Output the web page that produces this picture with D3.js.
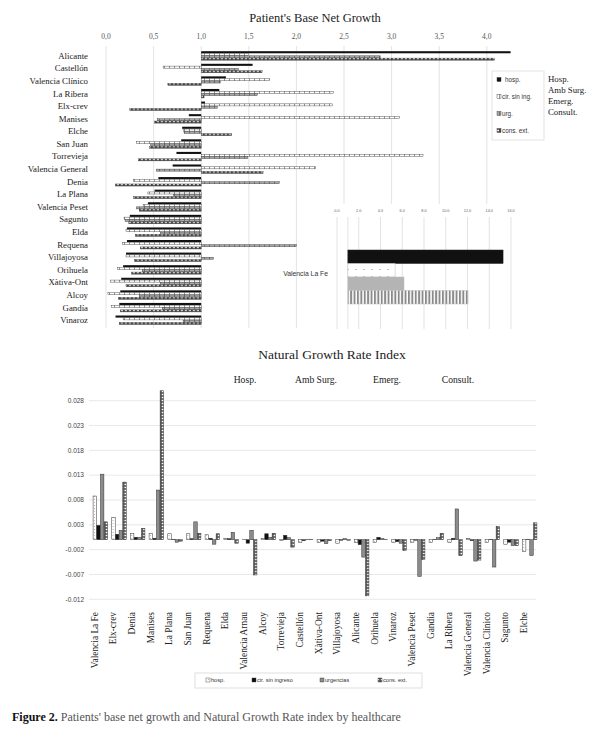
<!DOCTYPE html>
<html>
<head>
<meta charset="UTF-8" />
<title>Patient's Base Net Growth & Natural Growth Rate Index</title>
<script src="https://cdn.jsdelivr.net/npm/d3@7"></script>
<style>
  body { margin: 0; background: #fff; }
  svg { display: block; }
  .serif { font-family: "Liberation Serif", "DejaVu Serif", serif; }
  .sans { font-family: "Liberation Sans", Arial, sans-serif; }
</style>
</head>
<body>
<svg width="600" height="738"></svg>
<script>
// ---- top chart: patient's base net growth (base = 1.0)
const topCats = ["Alicante", "Castellón", "Valencia Clínico", "La Ribera", "Elx-crev", "Manises", "Elche",
  "San Juan", "Torrevieja", "Valencia General", "Denia", "La Plana", "Valencia Peset", "Sagunto", "Elda",
  "Requena", "Villajoyosa", "Orihuela", "Xàtiva-Ont", "Alcoy", "Gandía", "Vinaroz"];
const topHosp = [4.25, 1.54, 1.26, 1.19, 1.04, 0.87, 0.80, 0.79, 0.74, 0.70, 0.55, 0.51, 0.44, 0.25, 0.22, 0.22, 0.21, 0.18, 0.16, 0.15, 0.14, 0.10];
const topCir  = [1.50, 0.60, 1.72, 2.39, 2.38, 3.08, 0.81, 0.32, 3.33, 2.20, 0.29, 0.44, 0.39, 0.19, 0.21, 0.17, 0.21, 0.12, 0.05, 0.02, 0.06, 0.18];
const topUrg  = [2.88, 1.39, 1.20, 1.59, 1.17, 0.54, 0.82, 0.47, 1.49, 0.53, 1.82, 0.71, 0.32, 0.20, 0.57, 2.00, 1.13, 0.38, 0.57, 0.35, 0.59, 0.81];
const topCons = [4.08, 1.64, 0.65, 1.03, 0.25, 0.51, 1.32, 0.46, 0.34, 1.65, 0.10, 0.29, 0.35, 0.24, 0.31, 0.36, 0.30, 0.27, 0.21, 0.13, 0.15, 0.14];
const topTicks = [0, 0.5, 1, 1.5, 2, 2.5, 3, 3.5, 4];
const topLegend = ["hosp.", "cir. sin ing.", "urg.", "cons. ext."];
const sideNames = ["Hosp.", "Amb Surg.", "Emerg.", "Consult."];

// inset: Valencia La Fe on its own scale
const insetCat = ["Valencia La Fe"];
const insetVals = [15.27, 5.34, 6.16, 12.05];
const insetTicks = [0, 2, 4, 6, 8, 10, 12, 14, 16];

// ---- bottom chart: natural growth rate index
const botCats = ["Valencia La Fe", "Elx-crev", "Denia", "Manises", "La Plana", "San Juan", "Requena", "Elda",
  "Valencia Arnau", "Alcoy", "Torrevieja", "Castellón", "Xàtiva-Ont", "Villajoyosa", "Alicante", "Orihuela",
  "Vinaroz", "Valencia Peset", "Gandia", "La Ribera", "Valencia General", "Valencia Clínico", "Sagunto", "Elche"];
const botHosp = [0.0088, 0.0045, 0.0013, 0.0013, 0.0012, 0.0012, 0.0010, 0.0003, 0.0001, 0.0002, -0.0002, -0.0006,
  -0.0006, -0.0007, -0.0006, -0.0006, -0.0006, -0.0005, -0.0006, -0.0006, 0.0003, -0.0006, -0.0009, -0.0024];
const botCir  = [0.0029, 0.0011, 0.0005, 0.0003, 0.0001, 0.0002, 0.0003, 0.0002, -0.0007, 0.0012, 0.0009, -0.0002,
  -0.0003, -0.0001, -0.0010, 0.0005, -0.0004, -0.0001, 0.0001, 0.0003, -0.0002, 0.0001, -0.0005, 0.0001];
const botUrg  = [0.0132, 0.0019, 0.0005, 0.0100, -0.0005, 0.0036, -0.0009, 0.0015, 0.0019, 0.0005, 0.0004, 0.0001,
  -0.0008, 0.0002, -0.0035, 0.0002, -0.0007, -0.0074, 0.0004, 0.0062, -0.0043, -0.0055, -0.0012, -0.0032];
const botCons = [0.0036, 0.0116, 0.0023, 0.0300, -0.0003, 0.0013, 0.0012, -0.0007, -0.0071, 0.0013, -0.0015, 0.0001,
  -0.0002, -0.0001, -0.0113, 0.0001, -0.0022, -0.0040, 0.0013, -0.0032, -0.0041, 0.0027, -0.0012, 0.0034];
const botTicks = [-0.012, -0.007, -0.002, 0.003, 0.008, 0.013, 0.018, 0.023, 0.028];
const botLegend = ["hosp.", "cir. sin ingreso", "urgencias", "cons. ext."];

const keys = ["hosp", "cir", "urg", "cons"];
const svg = d3.select("svg");

// patterns
const defs = svg.append("defs");
function pat(id, w, h, bg, draw) {
  const p = defs.append("pattern").attr("id", id).attr("patternUnits", "userSpaceOnUse")
    .attr("width", w).attr("height", h);
  p.append("rect").attr("width", w).attr("height", h).attr("fill", bg);
  draw(p);
}
pat("tTick", 5, 4, "#fff", p => p.append("rect").attr("x", 4).attr("width", 0.7).attr("height", 4).attr("fill", "#666"));
pat("tTickG", 5, 4, "#a8a8a8", p => p.append("rect").attr("x", 4).attr("width", 0.7).attr("height", 4).attr("fill", "#555"));
pat("tCheck", 4, 3, "#444", p => p.append("rect").attr("x", 0.8).attr("y", 0.8).attr("width", 2.2).attr("height", 1.4).attr("fill", "#fff"));
pat("bDot", 3, 3, "#fff", p => p.append("circle").attr("cx", 1.5).attr("cy", 1.5).attr("r", 0.45).attr("fill", "#666"));
pat("bCheck", 4, 3, "#555", p => p.append("rect").attr("x", 0.9).attr("y", 0.8).attr("width", 2.2).attr("height", 1.4).attr("fill", "#fff"));
pat("iDot", 8, 7, "#fff", p => p.append("circle").attr("cx", 4).attr("cy", 3.5).attr("r", 0.6).attr("fill", "#777"));
pat("iStripe", 3.4, 10, "#fff", p => p.append("rect").attr("width", 1.9).attr("height", 10).attr("fill", "#8a8a8a"));

const topFill = { hosp: "#111", cir: "url(#tTick)", urg: "url(#tTickG)", cons: "url(#tCheck)" };
const botFill = { hosp: "url(#bDot)", cir: "#111", urg: "#8c8c8c", cons: "url(#bCheck)" };
const insetFill = { hosp: "#111", cir: "url(#iDot)", urg: "#b4b4b4", cons: "url(#iStripe)" };

// ================= TOP CHART =================
svg.append("text").attr("class", "serif").attr("x", 315).attr("y", 22).attr("text-anchor", "middle")
  .attr("font-size", 12.5).attr("fill", "#222").text("Patient's Base Net Growth");

const xTop = d3.scaleLinear().domain([0, 4.5]).range([106, 534.4]);
const yTop = d3.scaleBand().domain(topCats).range([49.4, 326.3]).paddingInner(0.25).paddingOuter(0.125);
const subTop = d3.scaleBand().domain(keys).range([0, yTop.bandwidth()]).padding(0.1);

svg.append("g").selectAll("line").data(topTicks).join("line")
  .attr("x1", d => xTop(d)).attr("x2", d => xTop(d)).attr("y1", 46).attr("y2", 328)
  .attr("stroke", "#dcdcdc").attr("stroke-width", 0.8);
svg.append("g").selectAll("text").data(topTicks).join("text").attr("class", "serif")
  .attr("x", d => xTop(d)).attr("y", 39).attr("text-anchor", "middle").attr("font-size", 7.5).attr("fill", "#555")
  .text(d => d3.format(".1f")(d).replace(".", ","));

svg.append("g").selectAll("text").data(topCats).join("text").attr("class", "serif")
  .attr("x", 88).attr("y", d => yTop(d) + yTop.bandwidth() / 2).attr("dy", "0.35em")
  .attr("text-anchor", "end").attr("font-size", 8.8).attr("fill", "#222").text(d => d);

const topRows = topCats.map((c, i) => ({ cat: c, hosp: topHosp[i], cir: topCir[i], urg: topUrg[i], cons: topCons[i] }));
const tg = svg.append("g").selectAll("g").data(topRows).join("g")
  .attr("transform", d => `translate(0,${yTop(d.cat)})`);
tg.selectAll("rect").data(d => keys.map(k => ({ k, v: d[k] }))).join("rect")
  .attr("x", d => Math.min(xTop(1), xTop(d.v))).attr("width", d => Math.abs(xTop(d.v) - xTop(1)))
  .attr("y", d => subTop(d.k)).attr("height", subTop.bandwidth())
  .attr("fill", d => topFill[d.k]).attr("stroke", d => d.k === "hosp" ? "none" : "#333").attr("stroke-width", 0.4);

// top legend
svg.append("rect").attr("x", 492).attr("y", 71).attr("width", 52).attr("height", 69)
  .attr("fill", "#fff").attr("stroke", "#ddd").attr("stroke-width", 0.8);
const legY = d3.scalePoint().domain(topLegend).range([80, 131]);
topLegend.forEach((t, i) => {
  svg.append("rect").attr("x", 497).attr("y", legY(t) - 2.5).attr("width", 4).attr("height", 4)
    .attr("fill", topFill[keys[i]]).attr("stroke", "#333").attr("stroke-width", 0.4);
  svg.append("text").attr("class", "sans").attr("x", i === 0 ? 505 : 502).attr("y", legY(t)).attr("dy", "0.35em")
    .attr("font-size", 6.3).attr("fill", "#333").text(t);
});
const sideY = d3.scalePoint().domain(sideNames).range([78.5, 112]);
svg.append("g").selectAll("text").data(sideNames).join("text").attr("class", "serif")
  .attr("x", 548).attr("y", d => sideY(d)).attr("dy", "0.35em").attr("font-size", 8.8).attr("fill", "#222").text(d => d);

// inset for Valencia La Fe
const xIn = d3.scaleLinear().domain([0, 16]).range([337, 511]);
const yIn = d3.scaleBand().domain(insetCat).range([217, 330]);
const subIn = d3.scaleBand().domain(keys).range([250, 304]);
svg.append("rect").attr("x", 312).attr("y", 204).attr("width", 220).attr("height", 128).attr("fill", "#fff");
svg.append("g").selectAll("line").data(insetTicks.concat([1])).join("line")
  .attr("x1", d => xIn(d)).attr("x2", d => xIn(d)).attr("y1", 217).attr("y2", 329)
  .attr("stroke", "#dcdcdc").attr("stroke-width", 0.8);
svg.append("g").selectAll("text").data(insetTicks).join("text").attr("class", "sans")
  .attr("x", d => xIn(d)).attr("y", 212).attr("text-anchor", "middle").attr("font-size", 3.8).attr("fill", "#666")
  .text(d => d3.format(".1f")(d));
svg.append("g").selectAll("rect").data(keys.map((k, i) => ({ k, v: insetVals[i] }))).join("rect")
  .attr("x", xIn(1)).attr("width", d => xIn(d.v) - xIn(1))
  .attr("y", d => subIn(d.k)).attr("height", subIn.bandwidth())
  .attr("fill", d => insetFill[d.k]).attr("stroke", d => d.k === "hosp" ? "#222" : "#bbb").attr("stroke-width", 0.5);
svg.append("text").attr("class", "sans").attr("x", 328).attr("y", yIn(insetCat[0]) + yIn.bandwidth() / 2)
  .attr("dy", "0.35em").attr("text-anchor", "end").attr("font-size", 6.8).attr("fill", "#333").text(insetCat[0]);

// ================= BOTTOM CHART =================
svg.append("text").attr("class", "serif").attr("x", 332).attr("y", 359).attr("text-anchor", "middle")
  .attr("font-size", 13.5).attr("fill", "#222").text("Natural Growth Rate Index");
const headX = d3.scalePoint().domain(sideNames).range([245, 458]);
svg.append("g").selectAll("text").data(sideNames).join("text").attr("class", "serif")
  .attr("x", d => headX(d)).attr("y", 383).attr("text-anchor", "middle").attr("font-size", 9.6).attr("fill", "#222").text(d => d);

const xBot = d3.scaleBand().domain(botCats).range([91, 539]).paddingInner(0.2).paddingOuter(0.1);
const subBot = d3.scaleBand().domain(keys).range([0, xBot.bandwidth()]).padding(0.06);
const yBot = d3.scaleLinear().domain([-0.012, 0.028]).range([599.3, 400.7]);

svg.append("g").selectAll("line").data(botTicks).join("line")
  .attr("x1", 89).attr("x2", 536).attr("y1", d => yBot(d)).attr("y2", d => yBot(d))
  .attr("stroke", "#e2e2e2").attr("stroke-width", 0.8);
svg.append("g").selectAll("text").data(botTicks).join("text").attr("class", "sans")
  .attr("x", 84).attr("y", d => yBot(d)).attr("dy", "0.35em").attr("text-anchor", "end")
  .attr("font-size", 6.5).attr("fill", "#444").text(d => d3.format(".3f")(d).replace("−", "-"));

const botRows = botCats.map((c, i) => ({ cat: c, hosp: botHosp[i], cir: botCir[i], urg: botUrg[i], cons: botCons[i] }));
const bg = svg.append("g").selectAll("g").data(botRows).join("g")
  .attr("transform", d => `translate(${xBot(d.cat)},0)`);
bg.selectAll("rect").data(d => keys.map(k => ({ k, v: d[k] }))).join("rect")
  .attr("x", d => subBot(d.k)).attr("width", subBot.bandwidth())
  .attr("y", d => Math.min(yBot(0), yBot(d.v))).attr("height", d => Math.abs(yBot(d.v) - yBot(0)))
  .attr("fill", d => botFill[d.k]).attr("stroke", "#333").attr("stroke-width", 0.5);

svg.append("g").selectAll("text").data(botCats).join("text").attr("class", "serif")
  .attr("transform", d => `translate(${xBot(d) + xBot.bandwidth() / 2 - 6},612) rotate(-90)`)
  .attr("dy", "0.35em").attr("text-anchor", "end").attr("font-size", 9.4).attr("fill", "#222").text(d => d);

// bottom legend
svg.append("rect").attr("x", 195).attr("y", 673).attr("width", 227).attr("height", 15)
  .attr("fill", "#fff").attr("stroke", "#d8d8d8").attr("stroke-width", 0.8);
const legX = { "hosp.": 206, "cir. sin ingreso": 252, "urgencias": 320, "cons. ext.": 378 };
botLegend.forEach((t, i) => {
  svg.append("rect").attr("x", legX[t]).attr("y", 678).attr("width", 4).attr("height", 4)
    .attr("fill", botFill[keys[i]]).attr("stroke", "#333").attr("stroke-width", 0.4);
  svg.append("text").attr("class", "sans").attr("x", legX[t] + 5).attr("y", 680).attr("dy", "0.35em")
    .attr("font-size", 5.6).attr("fill", "#333").text(t);
});

// caption
const cap = svg.append("text").attr("class", "serif").attr("x", 12).attr("y", 721).attr("font-size", 12);
cap.append("tspan").attr("font-weight", "bold").attr("fill", "#111").text("Figure 2.");
cap.append("tspan").attr("fill", "#555").text(" Patients' base net growth and Natural Growth Rate index by healthcare");
</script>
</body>
</html>
